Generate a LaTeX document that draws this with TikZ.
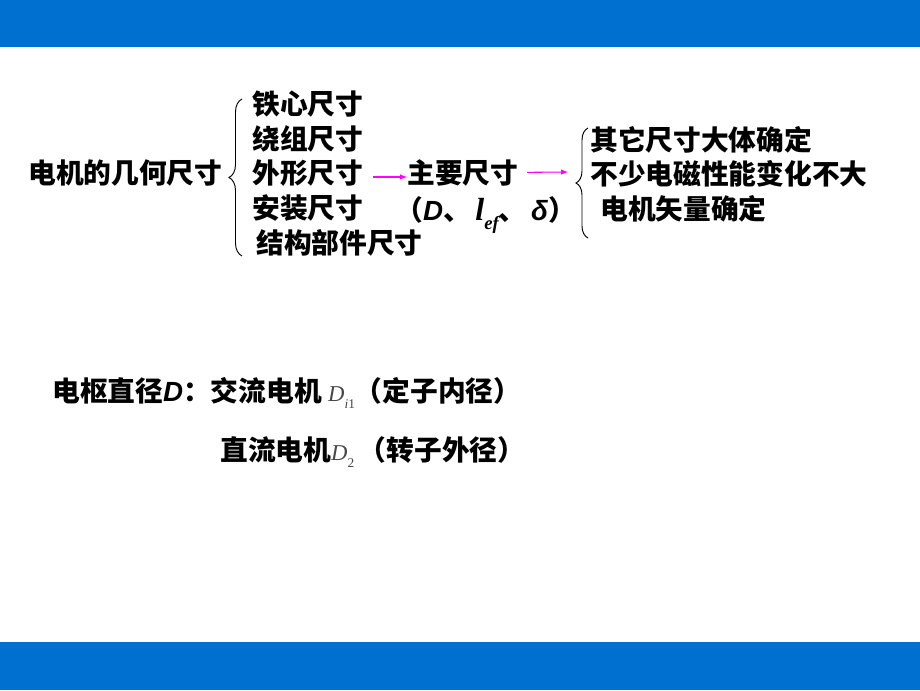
\documentclass[tikz,border=0pt]{standalone}
\usepackage{fontspec}
\usepackage{amsmath}
\usepackage{xcolor}
\usepackage{tikz}
\usetikzlibrary{decorations.pathreplacing}
\newfontfamily\cjk{Noto Sans CJK SC}
\newfontfamily\arialf{Liberation Sans}
\newfontfamily\timesf{Liberation Serif}
\definecolor{barblue}{RGB}{0,112,208}
\definecolor{arrowpink}{RGB}{255,0,255}
\newcommand{\lowsub}[2]{\raisebox{-0.28em}{\fontsize{#1}{14}\selectfont #2}}
\tikzset{
  txt/.style={anchor=west, inner sep=0pt, font=\cjk\bfseries\fontsize{20.8}{24}\selectfont,
    text height=1.32em, text depth=0em},
  pinkarrow/.style={->, >=latex, draw=arrowpink, fill=arrowpink, line width=0.8pt},
  bracel/.style={decorate, decoration={brace, amplitude=#1}, line width=0.7pt}
}

\begin{document}
\begin{tikzpicture}[x=0.75pt, y=-0.75pt]
\useasboundingbox (0,0) rectangle (920,690);
\fill[barblue] (0,0) rectangle (920,47);
\fill[barblue] (0,642) rectangle (920,690);

\node[txt] (geom) at (28,175) {电机的几何尺寸};
\draw[bracel=9.75pt] (242,256) -- (242,99);
\foreach \y/\t/\n in {106/铁心尺寸/core, 141/绕组尺寸/wind, 175/外形尺寸/shape, 210/安装尺寸/mount}
    \node[txt] (\n) at (252,\y) {\t};
\node[txt] (struct) at (256,245) {结构部件尺寸};

\node[txt] (main) at (407,175) {主要尺寸};
\node[txt] (param) at (395,212) {（{\arialf\itshape D}、\,{\timesf\itshape\fontsize{24}{26}\selectfont l\lowsub{14}{ef}}、\,{\arialf\itshape δ}）};
\draw[pinkarrow] ([xshift=7.5pt,yshift=-1.5pt]shape.east) -- ([yshift=-1.5pt]main.west);
\coordinate (tip) at (568,172);
\draw[pinkarrow] ([xshift=6.5pt,yshift=2pt]main.east) -- (tip);

\draw[bracel=9pt] (588,238) -- (588,128);
\node[txt] (other) at (590,142) {其它尺寸大体确定};
\node[txt] (perf) at (590,176) {不少电磁性能变化不大};
\node[txt] (vec) at (600,211) {电机矢量确定};

\node[txt] (arm) at (52,393) {电枢直径{\arialf\itshape D}：交流电机 {\timesf\mdseries\color{black!72}\fontsize{17}{18}\selectfont\itshape D\lowsub{10}{i\upshape 1}}（定子内径）};
\node[txt] (dc) at (220,452) {直流电机{\timesf\mdseries\color{black!72}\fontsize{17}{18}\selectfont\itshape D\lowsub{10}{\upshape 2}}\,（转子外径）};
\end{tikzpicture}
\end{document}
